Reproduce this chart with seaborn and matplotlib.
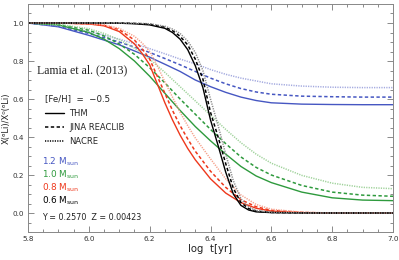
import matplotlib
matplotlib.use("Agg")
import matplotlib.pyplot as plt
import numpy as np
import pandas as pd
import seaborn as sns
from matplotlib.lines import Line2D
from matplotlib.ticker import MultipleLocator, FormatStrFormatter

# log t [yr] grids and Li-6 depletion curves
t_slow = [5.8, 5.9, 6.0, 6.05, 6.1, 6.15, 6.2, 6.25, 6.3, 6.35, 6.4, 6.45,
          6.5, 6.55, 6.6, 6.7, 6.8, 6.9, 7.0]
t_fast = [5.8, 5.9, 6.0, 6.05, 6.1, 6.15, 6.175, 6.2, 6.225, 6.25, 6.275,
          6.3, 6.325, 6.35, 6.4, 6.45, 6.5, 6.55, 6.6, 6.7, 6.8, 7.0]
t_black = [5.8, 6.0, 6.1, 6.15, 6.2, 6.25, 6.275, 6.3, 6.325, 6.35, 6.375,
           6.4, 6.425, 6.45, 6.475, 6.5, 6.525, 6.55, 6.6, 6.7, 7.0]

# 1.2 Msun
blue_thm = [1.0, 0.98, 0.935, 0.91, 0.885, 0.853, 0.82, 0.783, 0.745, 0.70,
            0.665, 0.635, 0.61, 0.592, 0.58, 0.573, 0.571, 0.57, 0.57]
blue_jina = [1.0, 0.983, 0.945, 0.923, 0.90, 0.873, 0.845, 0.813, 0.78,
             0.745, 0.71, 0.68, 0.655, 0.637, 0.625, 0.615, 0.612, 0.61, 0.61]
blue_nacre = [1.0, 0.986, 0.955, 0.936, 0.915, 0.891, 0.865, 0.838, 0.81,
              0.785, 0.755, 0.73, 0.71, 0.695, 0.68, 0.668, 0.662, 0.66, 0.66]
# 1.0 Msun
green_thm = [1.0, 0.99, 0.95, 0.915, 0.865, 0.80, 0.72, 0.63, 0.54, 0.455,
             0.38, 0.31, 0.245, 0.195, 0.16, 0.11, 0.08, 0.068, 0.065]
green_jina = [1.0, 0.992, 0.962, 0.932, 0.89, 0.835, 0.765, 0.685, 0.60,
              0.52, 0.44, 0.365, 0.295, 0.24, 0.20, 0.145, 0.11, 0.094, 0.088]
green_nacre = [1.0, 0.993, 0.97, 0.945, 0.912, 0.868, 0.81, 0.74, 0.665,
               0.59, 0.515, 0.44, 0.37, 0.31, 0.262, 0.198, 0.157, 0.135, 0.128]
# 0.8 Msun
red_thm = [1.0, 1.0, 0.995, 0.985, 0.955, 0.89, 0.84, 0.78, 0.68, 0.58,
           0.49, 0.41, 0.34, 0.28, 0.18, 0.105, 0.055, 0.025, 0.01, 0.002,
           0.0, 0.0]
red_jina = [1.0, 1.0, 0.996, 0.988, 0.965, 0.91, 0.865, 0.81, 0.72, 0.63,
            0.54, 0.46, 0.39, 0.325, 0.22, 0.135, 0.07, 0.033, 0.014, 0.003,
            0.0, 0.0]
red_nacre = [1.0, 1.0, 0.997, 0.99, 0.972, 0.93, 0.895, 0.85, 0.775, 0.69,
             0.61, 0.53, 0.46, 0.395, 0.285, 0.18, 0.095, 0.045, 0.02, 0.004,
             0.0, 0.0]
# 0.6 Msun
black_thm = [1.0, 1.0, 0.999, 0.996, 0.99, 0.972, 0.95, 0.915, 0.86, 0.775,
             0.66, 0.49, 0.355, 0.215, 0.10, 0.04, 0.016, 0.006, 0.002, 0.0, 0.0]
black_jina = [1.0, 1.0, 1.0, 0.998, 0.994, 0.978, 0.96, 0.93, 0.885, 0.81,
              0.705, 0.53, 0.40, 0.26, 0.13, 0.055, 0.024, 0.01, 0.003, 0.0, 0.0]
black_nacre = [1.0, 1.0, 1.0, 0.999, 0.996, 0.983, 0.968, 0.945, 0.905, 0.845,
               0.75, 0.60, 0.46, 0.31, 0.17, 0.075, 0.032, 0.013, 0.004, 0.0, 0.0]

rates = ["THM", "JINA REACLIB", "NACRE"]
masses = ["1.2", "1.0", "0.8", "0.6"]

curves = [
    ("1.2", t_slow, [blue_thm, blue_jina, blue_nacre], ["#4657c2", "#4657c2", "#a3a9df"]),
    ("1.0", t_slow, [green_thm, green_jina, green_nacre], ["#2e9a3d", "#2e9a3d", "#9fd29a"]),
    ("0.8", t_fast, [red_thm, red_jina, red_nacre], ["#ee381c", "#ee381c", "#f6a28d"]),
    ("0.6", t_black, [black_thm, black_jina, black_nacre], ["#000000", "#000000", "#8c8c8c"]),
]
styles = {"THM": "-", "JINA REACLIB": (0, (2.2, 1.6)), "NACRE": (0, (0.8, 0.8))}
widths = {"THM": 1.0, "JINA REACLIB": 1.1, "NACRE": 1.1}

rows = []
for mass, t, ys, cols in curves:
    for rate, y in zip(rates, ys):
        for a, b in zip(t, y):
            rows.append({"logt": a, "X": b, "mass": mass, "rate": rate})
df = pd.DataFrame(rows)

sns.set_style("ticks")
plt.rcParams["font.family"] = ["DejaVu Sans"]

fig = plt.figure(figsize=(3.99, 2.60), dpi=100)
ax = fig.add_axes([28 / 399, 28 / 260, 365 / 399, 228 / 260])

for mass, t, ys, cols in curves:
    for rate, col in zip(rates, cols):
        sub = df[(df["mass"] == mass) & (df["rate"] == rate)]
        sns.lineplot(data=sub, x="logt", y="X", ax=ax, color=col,
                     linestyle=styles[rate], linewidth=widths[rate],
                     sort=False, legend=False)

ax.set_xlim(5.8, 7.0)
ax.set_ylim(-0.1, 1.1)
ax.xaxis.set_major_locator(MultipleLocator(0.2))
ax.xaxis.set_minor_locator(MultipleLocator(0.05))
ax.set_yticks([0.0, 0.2, 0.4, 0.6, 0.8, 1.0])
ax.yaxis.set_minor_locator(MultipleLocator(0.05))
ax.xaxis.set_major_formatter(FormatStrFormatter("%.1f"))
ax.yaxis.set_major_formatter(FormatStrFormatter("%.1f"))
ax.tick_params(which="both", direction="in", top=True, right=True,
               colors="#777777", labelcolor="#333333", labelsize=5.2, width=0.6)
ax.tick_params(which="major", length=4, pad=3)
ax.tick_params(which="minor", length=2)
for s in ax.spines.values():
    s.set_color("#888888")
    s.set_linewidth(0.7)

ax.set_xlabel("log  t[yr]", fontsize=7.3, color="#222222", labelpad=1)
ax.set_ylabel("X(⁶Li)/X⁰(⁶Li)", fontsize=6.0, color="#222222", labelpad=1)

ax.text(5.83, 0.75, "Lamia et al. (2013)", family=["Liberation Serif", "DejaVu Serif"],
        fontsize=8.5, va="center", ha="left", color="#222222")
ax.text(5.856, 0.60, "[Fe/H]  =  \u22120.5", fontsize=6.2, va="center", ha="left",
        color="#222222")

handles = [Line2D([], [], color="black", linestyle=styles[r], linewidth=widths[r])
           for r in rates]
ax.legend(handles, rates, loc="upper left", bbox_to_anchor=(0.046, 0.538),
          frameon=False, fontsize=6.0, handlelength=2.3, handletextpad=0.6,
          labelspacing=0.55, borderaxespad=0, borderpad=0)

mass_colors = ["#4657c2", "#2e9a3d", "#ee381c", "#000000"]
mass_y = [0.268, 0.200, 0.131, 0.062]
for m, c, y in zip(masses, mass_colors, mass_y):
    ax.text(5.846, y, m + r" M$_{\mathrm{sun}}$", fontsize=6.4, color=c,
            va="center", ha="left")
ax.text(5.846, -0.024, "Y = 0.2570  Z = 0.00423", fontsize=5.8, va="center",
        ha="left", color="#222222")

fig.savefig("out.png", dpi=100)
